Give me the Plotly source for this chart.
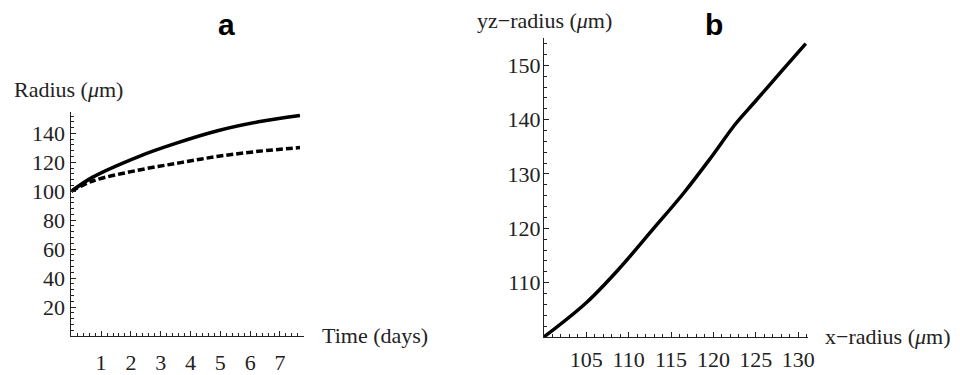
import plotly.graph_objects as go

# Panel a: radius vs time
time_solid = [0, 0.72, 2.28, 3.5, 4.94, 6.28, 7.67]
radius_solid = [100, 109.8, 124.2, 133.1, 142.0, 148.0, 152.4]
time_dashed = [0, 0.72, 2.28, 3.67, 4.94, 6.28, 7.67]
radius_dashed = [100, 107.1, 114.7, 119.8, 124.2, 127.6, 130.2]
a_xticks = [1, 2, 3, 4, 5, 6, 7]
a_yticks = [20, 40, 60, 80, 100, 120, 140]

# Panel b: yz-radius vs x-radius
x_radius = [100, 105, 108.9, 112.8, 116.5, 119.7, 122.6, 124.9, 128.2, 130.9]
yz_radius = [100, 106.3, 112.6, 119.7, 126.5, 133.0, 139.2, 143.3, 149.2, 154.0]
b_xticks = [105, 110, 115, 120, 125, 130]
b_yticks = [110, 120, 130, 140, 150]

# page has an 8px body margin; figure fills the rest of the 960x375 window
OX, OY = 8, 8
W, H = 960 - OX, 375 - OY
SERIF = "Liberation Serif, Times New Roman, serif"
SANS = "Liberation Sans, Arial, sans-serif"
INK = "#222"

def fx(px):
    return (px - OX) / W

def fy(py):
    return 1 - (py - OY) / H

fig = go.Figure()
fig.add_trace(go.Scatter(x=time_solid, y=radius_solid, mode="lines",
                         line=dict(color="black", width=3.5, shape="spline"),
                         xaxis="x", yaxis="y", showlegend=False))
fig.add_trace(go.Scatter(x=time_dashed, y=radius_dashed, mode="lines",
                         line=dict(color="black", width=3.5, dash="7px,3px", shape="spline"),
                         xaxis="x", yaxis="y", showlegend=False))
fig.add_trace(go.Scatter(x=x_radius, y=yz_radius, mode="lines",
                         line=dict(color="black", width=3.5, shape="spline"),
                         xaxis="x2", yaxis="y2", showlegend=False))

def ax(rng, dom, ticks, minor_dtick, minor_tick0, anchor, standoff=0):
    return dict(range=rng, domain=dom, tickvals=ticks, ticktext=[str(t) for t in ticks],
                ticks="inside", ticklen=5, tickwidth=1, tickcolor=INK,
                showline=True, linecolor=INK, linewidth=1, showgrid=False, zeroline=False,
                tickfont=dict(family=SERIF, size=22, color=INK), anchor=anchor,
                ticklabelstandoff=standoff,
                minor=dict(ticks="inside", ticklen=3, tickcolor=INK, dtick=minor_dtick,
                           tick0=minor_tick0, showgrid=False))

fig.update_layout(
    width=W, height=H, margin=dict(l=0, r=0, t=0, b=0),
    paper_bgcolor="white", plot_bgcolor="white",
    xaxis=ax([0, 7.8], [fx(71.7), fx(305.7)], a_xticks, 0.2, 0, "y", standoff=7),
    yaxis=ax([0, 155], [fy(348), fy(115.5)], a_yticks, 4, 0, "x", standoff=1),
    xaxis2=ax([100, 131.2], [fx(547.3), fx(813.4)], b_xticks, 1, 100, "y2", standoff=3),
    yaxis2=ax([100, 155], [fy(349), fy(39.3)], b_yticks, 2, 100, "x2", standoff=-2),
)

def txt(x, y, s, size=22, xanchor="left", family=SERIF, color=INK):
    fig.add_annotation(x=fx(x), y=fy(y), xref="paper", yref="paper", text=s, showarrow=False,
                       xanchor=xanchor, yanchor="middle", font=dict(family=family, size=size, color=color))

txt(12, 92, "Radius (<i>μ</i>m)")
txt(322, 348, "Time (days)")
txt(478, 21, "yz−radius (<i>μ</i>m)")
txt(828, 349, "x−radius (<i>μ</i>m)")
txt(228, 25, "<b>a</b>", size=30, xanchor="center", family=SANS, color="black")
txt(718, 25, "<b>b</b>", size=30, xanchor="center", family=SANS, color="black")

fig.write_html("out.html")
